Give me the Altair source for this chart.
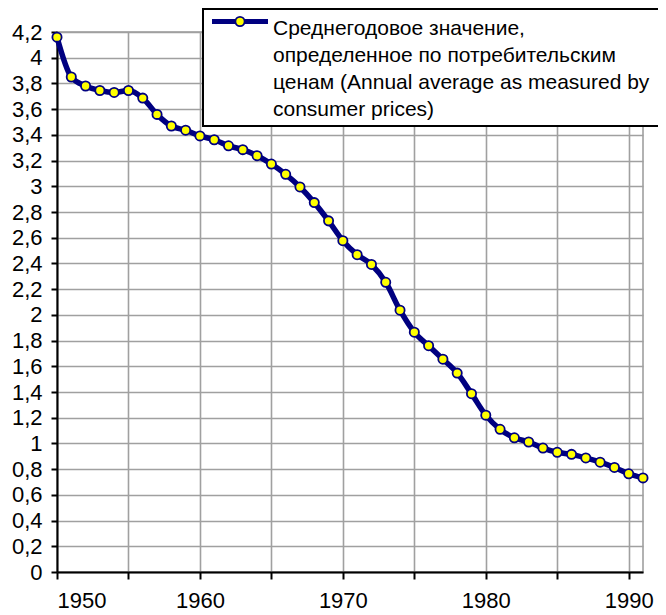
import altair as alt
import pandas as pd

years = list(range(1950, 1992))
values = [4.16, 3.85, 3.78, 3.745, 3.73, 3.745, 3.686, 3.559, 3.469, 3.436,
          3.392, 3.362, 3.315, 3.285, 3.238, 3.173, 3.093, 2.995, 2.873, 2.731,
          2.577, 2.468, 2.392, 2.253, 2.036, 1.865, 1.76, 1.655, 1.547, 1.387,
          1.22, 1.11, 1.044, 1.011, 0.964, 0.931, 0.915, 0.887, 0.854, 0.813,
          0.764, 0.732]
x_ticks = [1950, 1955, 1960, 1965, 1970, 1975, 1980, 1985, 1990]
y_ticks = [0, 0.2, 0.4, 0.6, 0.8, 1, 1.2, 1.4, 1.6, 1.8, 2, 2.2, 2.4, 2.6,
           2.8, 3, 3.2, 3.4, 3.6, 3.8, 4, 4.2]
legend_lines = ["Среднегодовое значение,",
                "определенное по потребительским",
                "ценам (Annual average as measured by",
                "consumer prices)"]

NAVY = "#000080"
YELLOW = "#FFFF00"
FONT = "Liberation Sans"

df = pd.DataFrame({"year": years, "value": values})

x_enc = alt.X("year:Q",
              scale=alt.Scale(domain=[1950, 1991], nice=False, zero=False),
              axis=alt.Axis(values=x_ticks, title=None,
                            labelExpr="datum.value % 10 == 0 ? toString(datum.value) : ''",
                            labelPadding=11, tickSize=7))
y_enc = alt.Y("value:Q",
              scale=alt.Scale(domain=[0, 4.2], nice=False),
              axis=alt.Axis(values=y_ticks, title=None,
                            labelExpr="replace(format(datum.value, '.1~f'), '.', ',')",
                            labelPadding=9, tickSize=6))

line = alt.Chart(df).mark_line(color=NAVY, strokeWidth=5.5,
                               interpolate="monotone").encode(x=x_enc, y=y_enc)
pts = alt.Chart(df).mark_circle(color=YELLOW, stroke=NAVY, strokeWidth=1.8,
                                size=85, opacity=1).encode(x=x_enc, y=y_enc)

leg = pd.DataFrame({"k": [0]})
box = alt.Chart(leg).mark_rect(fill="white", stroke="black", strokeWidth=2).encode(
    x=alt.value(146), x2=alt.value(640), y=alt.value(-23), y2=alt.value(94))
leg_line = alt.Chart(leg).mark_rule(color=NAVY, strokeWidth=5).encode(
    x=alt.value(155), x2=alt.value(211), y=alt.value(-10.5))
leg_pt = alt.Chart(leg).mark_circle(color=YELLOW, stroke=NAVY, strokeWidth=1.8,
                                    size=85, opacity=1).encode(
    x=alt.value(183), y=alt.value(-10.5))
leg_text = alt.Chart(leg).mark_text(align="left", baseline="alphabetic", fontSize=21,
                                    lineHeight=27.1, font=FONT, color="black",
                                    text=legend_lines).encode(
    x=alt.value(216), y=alt.value(2.5))

chart = alt.layer(line, pts, box, leg_line, leg_pt, leg_text).properties(
    width=586, height=540,
    autosize=alt.AutoSizeParams(type="none"),
    padding={"left": 49, "top": 24, "right": 15, "bottom": 39},
).configure_view(stroke="#999999", strokeWidth=1.5).configure_axis(
    labelFont=FONT, labelFontSize=22, labelColor="black",
    domainColor="black", domainWidth=2, tickColor="black", tickWidth=2,
    gridColor="#A0A0A0", gridWidth=1.6, grid=True,
)

chart.save("out.html", embed_options={"renderer": "svg", "actions": False})
